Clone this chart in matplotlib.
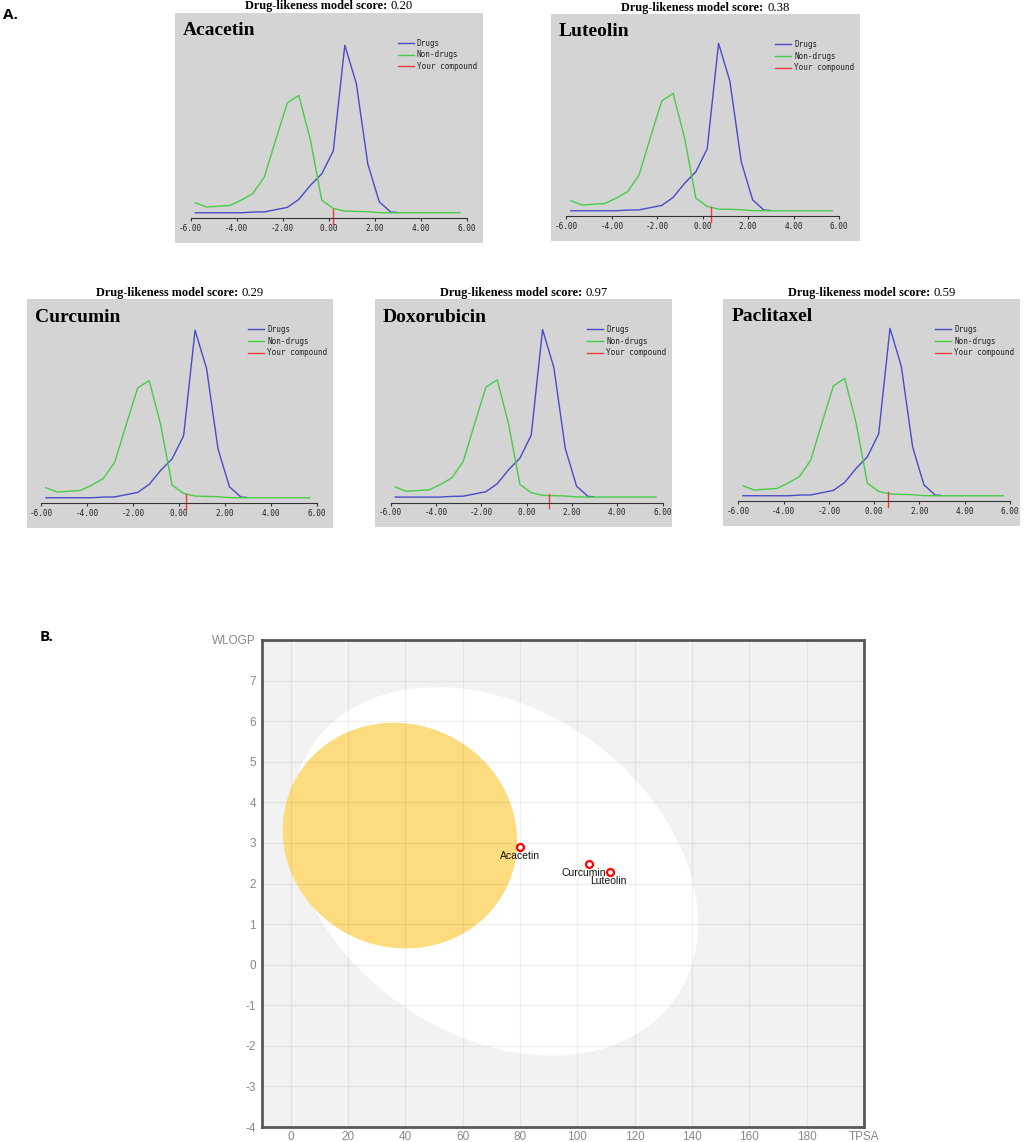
"""Drug-likeness score distributions (A) and BOILED-Egg plot (B)."""

import matplotlib

matplotlib.use("Agg")
import matplotlib.pyplot as plt
import numpy as np
from matplotlib.offsetbox import AnnotationBbox, HPacker, TextArea

W, H, DPI = 1028, 1142, 100

# ---- panel A: score distributions (identical for every compound) ----
bins_x = [-5.8, -5.3, -4.8, -4.3, -3.8, -3.3, -2.8, -2.3, -1.8, -1.3, -0.8, -0.3,
          0.2, 0.7, 1.2, 1.7, 2.2, 2.7, 3.2, 3.7, 4.2, 4.7, 5.2, 5.7]
nondrugs_y = [0.090, 0.065, 0.070, 0.074, 0.105, 0.143, 0.238, 0.455, 0.667, 0.710, 0.455, 0.105,
              0.057, 0.042, 0.040, 0.038, 0.033, 0.032, 0.032, 0.032, 0.032, 0.032, 0.032, 0.032]
drugs_x = [-5.8, -5.3, -4.8, -4.3, -3.8, -3.3, -2.8, -2.3, -1.8, -1.3, -0.8, -0.3,
           0.2, 0.7, 1.2, 1.7, 2.2, 2.7, 2.95]
drugs_y = [0.032, 0.032, 0.032, 0.032, 0.032, 0.036, 0.037, 0.050, 0.063, 0.109, 0.190, 0.257,
           0.390, 1.000, 0.780, 0.314, 0.095, 0.036, 0.034]

compounds = ["Acacetin", "Luteolin", "Curcumin", "Doxorubicin", "Paclitaxel"]
scores = [0.20, 0.38, 0.29, 0.97, 0.59]
axis_ticks = [-6, -4, -2, 0, 2, 4, 6]

# panel boxes in pixels: left, top, right, bottom, pixel x of -6 and of 6
boxes = [
    (175, 12.7, 482.7, 242.7, 190.7, 466.7),
    (551, 14, 860, 240.7, 566.3, 839),
    (27.3, 299, 333, 527.7, 41.3, 316.7),
    (375, 299, 672, 527, 390.7, 662.7),
    (723.3, 299, 1020, 525.7, 738.3, 1010),
]

# ---- panel B: BOILED-Egg ----
egg_names = ["Acacetin", "Curcumin", "Luteolin"]
egg_tpsa = [80.0, 104.1, 111.3]
egg_wlogp = [2.89, 2.49, 2.29]
label_dx = [0, -5, -1]  # px nudges of the point labels

# ellipses: centre x, centre y, half width, half height, correlation
hia_ellipse = (71.05, 2.30, 71.05, 4.54, -0.282)
bbb_ellipse = (38.1, 3.18, 40.9, 2.78, -0.05)

GRAY = "#d4d4d4"
BLUE = "#4a4ac8"
GREEN = "#48cc48"
RED = "#ee3b3b"
SERIF = "Liberation Serif"
MONO = "DejaVu Sans Mono"
SANS = "Liberation Sans"
PT = 72 / DPI  # points per pixel


def frac(l, t, r, b):
    return [l / W, 1 - b / H, (r - l) / W, (b - t) / H]


def draw_panel(fig, box, name, score):
    l, t, r, b, xm6, xp6 = box
    ax = fig.add_axes(frac(l, t, r, b))
    ax.set_facecolor(GRAY)
    upp = 12 / (xp6 - xm6)
    ax.set_xlim(-6 - (xm6 - l) * upp, 6 + (r - xp6) * upp)
    vpp = 1 / 173
    ax.set_ylim(-24.4 * vpp, (b - t - 24.4) * vpp)

    ax.plot(drugs_x, drugs_y, color=BLUE, lw=1.0, label="Drugs")
    ax.plot(bins_x, nondrugs_y, color=GREEN, lw=1.0, label="Non-drugs")
    ax.plot([score, score], [-0.033, 0.052], color=RED, lw=1.0, label="Your compound")

    for side in ("top", "left", "right"):
        ax.spines[side].set_visible(False)
    ax.spines["bottom"].set_position(("data", 0))
    ax.spines["bottom"].set_bounds(-6, 6)
    ax.spines["bottom"].set_color("#333333")
    ax.spines["bottom"].set_linewidth(0.8)
    ax.set_yticks([])
    ax.set_xticks(axis_ticks)
    ax.set_xticklabels([f"{v:.2f}" for v in axis_ticks], family=MONO, fontsize=5.5)
    ax.tick_params(axis="x", direction="out", length=2.4, width=0.8, color="#333333",
                   pad=1.4, labelcolor="#222222")

    ax.legend(loc="upper left", bbox_to_anchor=((r - l - 85) / (r - l), 1 - 26 / (b - t)),
              frameon=False, prop={"family": MONO, "size": 5.5}, handlelength=2.1,
              handletextpad=0.4, labelspacing=0.35, borderaxespad=0, borderpad=0,
              labelcolor="#222222")

    ax.annotate(name, xy=(0, 1), xycoords="axes fraction", xytext=(8 * PT, -18 * PT),
                textcoords="offset points", ha="left", va="center", fontsize=14,
                fontweight="bold", family=SERIF, color="black")

    title = HPacker(children=[
        TextArea("Drug-likeness model score:",
                 textprops={"family": SERIF, "fontweight": "bold", "fontsize": 8.8}),
        TextArea(f"{score:.2f}", textprops={"family": SERIF, "fontsize": 9.2}),
    ], pad=0, sep=2.5, align="baseline")
    ab = AnnotationBbox(title, (0.5, 1.0), xycoords=ax.transAxes, box_alignment=(0.5, 0),
                        xybox=(0, 0.3), boxcoords="offset points", frameon=False, pad=0,
                        annotation_clip=False)
    fig.add_artist(ab)


def ellipse_points(params, n=400):
    cx, cy, hx, hy, rho = params
    t = np.linspace(0, 2 * np.pi, n)
    x = cx + hx * np.cos(t)
    y = cy + hy * (rho * np.cos(t) + np.sqrt(1 - rho ** 2) * np.sin(t))
    return x, y


def draw_egg(fig):
    ax = fig.add_axes(frac(262, 640, 864, 1127))
    ax.set_facecolor("#f2f2f2")
    ax.set_xlim(-10, 200)
    ax.set_ylim(-4, 8)

    ax.fill(*ellipse_points(hia_ellipse), color="white", lw=0, zorder=1)
    ax.fill(*ellipse_points(bbb_ellipse), color="#fddc80", lw=0, zorder=1.1)

    xt = list(range(0, 201, 20))
    yt = list(range(-4, 9))
    ax.set_xticks(xt)
    ax.set_xticklabels([str(v) for v in xt[:-1]] + ["TPSA"])
    ax.set_yticks(yt)
    ax.set_yticklabels([str(v) for v in yt[:-1]] + ["WLOGP"])
    ax.tick_params(length=0, labelsize=8.5, labelcolor="#888888")
    ax.tick_params(axis="x", pad=3.2)
    ax.tick_params(axis="y", pad=4.3)
    for lab in ax.get_xticklabels() + ax.get_yticklabels():
        lab.set_family(SANS)
    ax.grid(True, color="black", alpha=0.06, lw=1.0)
    ax.set_axisbelow(False)
    for sp in ax.spines.values():
        sp.set_color("#5a5a5a")
        sp.set_linewidth(2)

    ax.plot(egg_tpsa, egg_wlogp, ls="none", marker="o", ms=5, mew=1.6, mfc="white",
            mec="#ff0000", zorder=4)
    for name, x, y, dx in zip(egg_names, egg_tpsa, egg_wlogp, label_dx):
        ax.annotate(name, xy=(x, y), xytext=(dx * PT, -9 * PT), textcoords="offset points",
                    ha="center", va="center", fontsize=7.5, family=SANS, color="#111111",
                    zorder=5)


def main():
    fig = plt.figure(figsize=(W / DPI, H / DPI), dpi=DPI)
    fig.patch.set_facecolor("white")
    for box, name, score in zip(boxes, compounds, scores):
        draw_panel(fig, box, name, score)
    draw_egg(fig)

    fig.text(2.7 / W, 1 - 15 / H, "A.", fontsize=11, fontweight="bold", family="Open Sans",
             va="center", ha="left")
    fig.text(40 / W, 1 - 637 / H, "B.", fontsize=11, fontweight="bold", family="Open Sans",
             va="center", ha="left")
    fig.savefig("out.png", dpi=DPI)
    plt.close(fig)


if __name__ == "__main__":
    main()
